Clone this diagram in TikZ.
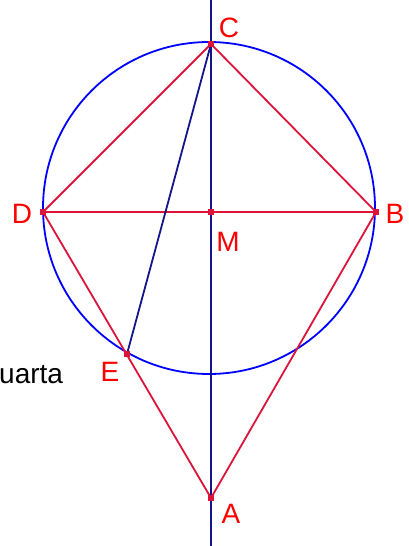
\documentclass[tikz,border=0pt]{standalone}
\usepackage{fontspec}
\setmainfont{Liberation Sans}
\usetikzlibrary{calc}
\definecolor{segred}{RGB}{220,20,60}
\definecolor{axisblue}{RGB}{20,20,140}
\begin{document}
\begin{tikzpicture}[x=1pt,y=-1pt,
    lbl/.style={text=red,font=\fontsize{28}{28}\selectfont,inner sep=0pt},
    seg/.style={draw=segred,line width=1.8pt},
    dot/.style={fill=segred}]
    \useasboundingbox (0,0) rectangle (409,546);
    % points
    \coordinate (M) at (211,212);
    \coordinate (C) at (211,44);
    \coordinate (D) at (43,212);
    \coordinate (B) at (376,212);
    \coordinate (A) at (211,498);
    \coordinate (E) at (127,354);
    \coordinate (O) at (209,208);
    \coordinate (top) at (211,0);
    \coordinate (bot) at (211,546);
    % circle and axis
    \draw[blue,line width=1.8pt] (O) circle (166pt);
    \draw[axisblue,line width=1.8pt] (top) -- (bot);
    % triangles
    \draw[seg] (D) -- (C) -- (B) -- (A) -- (D) -- (B);
    \draw[axisblue,line width=1.8pt] (C) -- (E);
    \foreach \p in {M,C,D,B,A,E} {
        \fill[dot] ($(\p)+(-3,-3)$) rectangle ($(\p)+(3,3)$);
    }
    % labels
    \node[lbl] (lC) at (229,28) {C};
    \node[lbl] (lD) at (22,214) {D};
    \node[lbl] (lB) at (395,214) {B};
    \node[lbl] (lM) at (228,242) {M};
    \node[lbl] (lE) at (110,372) {E};
    \node[lbl] (lA) at (231,514) {A};
    \node[lbl,text=black,anchor=base west] (word) at (-1,383) {uarta};
\end{tikzpicture}
\end{document}
